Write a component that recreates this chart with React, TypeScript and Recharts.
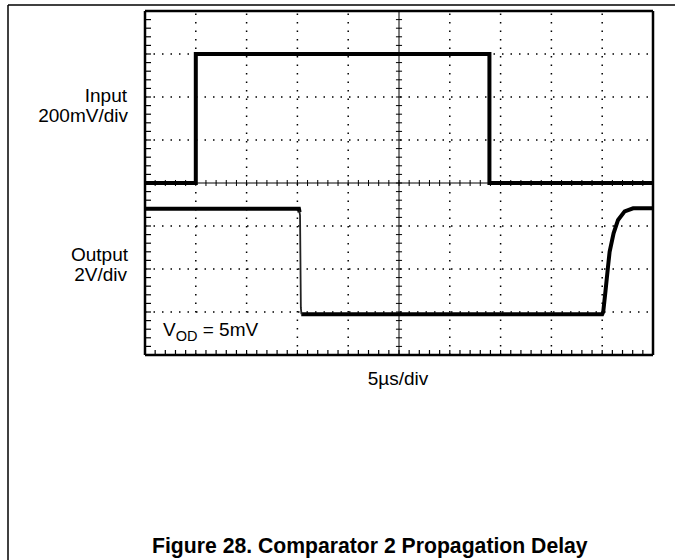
import React from 'react';
import { LineChart, Line, XAxis, YAxis, ReferenceLine } from 'recharts';

// time axis in µs (5µs/div, 10 div), amplitude in screen divisions (centre line = 0, 8 div)
const inputTrace = [
  { t: 0, v: 0 },
  { t: 5, v: 0 },
  { t: 5, v: 3 },
  { t: 33.9, v: 3 },
  { t: 33.9, v: 0 },
  { t: 50, v: 0 },
];

// output: heavy part (gap where the fast falling edge is)
const outputTrace = [
  { t: 0, v: -0.6 },
  { t: 15.15, v: -0.6 },
  { t: 15.22, v: -0.68 },
  { t: 15.3, v: null },
  { t: 15.38, v: -3.05 },
  { t: 45, v: -3.05 },
  { t: 45.1, v: -3.0 },
  { t: 45.33, v: -2.5 },
  { t: 45.57, v: -1.95 },
  { t: 45.73, v: -1.6 },
  { t: 46.12, v: -1.17 },
  { t: 46.56, v: -0.86 },
  { t: 47.21, v: -0.66 },
  { t: 48.04, v: -0.59 },
  { t: 50, v: -0.59 },
];

// falling edge is drawn thin on the scope
const outputEdge = [
  { t: 15.18, v: -0.64 },
  { t: 15.26, v: -0.75 },
  { t: 15.34, v: -2.9 },
  { t: 15.4, v: -3.05 },
];

const majorX = [5, 10, 15, 20, 30, 35, 40, 45];
const majorY = [-3, -2, -1, 1, 2, 3];
const minorX = Array.from({ length: 51 }, (_, i) => i);
const minorY = Array.from({ length: 41 }, (_, i) => Math.round((i * 0.2 - 4) * 10) / 10);

const W = 675;
const H = 560;
const FONT = '"Liberation Sans", Arial, Helvetica, sans-serif';

const borderTick = { stroke: '#000', strokeWidth: 1.2 };
const borderLine = { stroke: '#000', strokeWidth: 2.5 };
const noLabel = () => <g />;

export default function App() {
  return (
    <div style={{ position: 'absolute', left: 0, top: 0, width: W, height: H, background: '#fff' }}>
      <LineChart width={W} height={H} margin={{ top: 11, right: 22, bottom: 205, left: 145 }}>
        <XAxis
          xAxisId="b"
          type="number"
          dataKey="t"
          domain={[0, 50]}
          ticks={minorX}
          interval={0}
          orientation="bottom"
          mirror
          height={1}
          tick={noLabel}
          tickSize={5}
          tickLine={borderTick}
          axisLine={borderLine}
        />
        <XAxis
          xAxisId="t"
          type="number"
          dataKey="t"
          domain={[0, 50]}
          ticks={minorX}
          interval={0}
          orientation="top"
          mirror
          height={1}
          tick={noLabel}
          tickSize={5}
          tickLine={borderTick}
          axisLine={borderLine}
        />
        <YAxis
          yAxisId="l"
          type="number"
          domain={[-4, 4]}
          ticks={minorY}
          interval={0}
          orientation="left"
          mirror
          width={1}
          tick={noLabel}
          tickSize={6}
          tickLine={borderTick}
          axisLine={borderLine}
        />
        <YAxis
          yAxisId="r"
          type="number"
          domain={[-4, 4]}
          ticks={minorY}
          interval={0}
          orientation="right"
          mirror
          width={1}
          tick={noLabel}
          tickSize={6}
          tickLine={borderTick}
          axisLine={borderLine}
        />

        {/* dotted graticule */}
        {majorX.map((t) => (
          <ReferenceLine
            key={'gx' + t}
            xAxisId="b"
            yAxisId="l"
            x={t}
            stroke="#000"
            strokeWidth={1.5}
            strokeDasharray="1.5 7"
          />
        ))}
        {majorY.map((v) => (
          <ReferenceLine
            key={'gy' + v}
            xAxisId="b"
            yAxisId="l"
            y={v}
            stroke="#000"
            strokeWidth={1.5}
            strokeDasharray="1.5 7"
          />
        ))}

        {/* centre cross with minor ticks */}
        <ReferenceLine xAxisId="b" yAxisId="l" x={25} stroke="#000" strokeWidth={1} />
        <ReferenceLine xAxisId="b" yAxisId="l" y={0} stroke="#000" strokeWidth={1} />
        {minorX.map((t) => (
          <ReferenceLine
            key={'cx' + t}
            xAxisId="b"
            yAxisId="l"
            segment={[{ x: t, y: -0.07 }, { x: t, y: 0.07 }]}
            stroke="#000"
            strokeWidth={1}
          />
        ))}
        {minorY.map((v) => (
          <ReferenceLine
            key={'cy' + v}
            xAxisId="b"
            yAxisId="l"
            segment={[{ x: 24.7, y: v }, { x: 25.3, y: v }]}
            stroke="#000"
            strokeWidth={1}
          />
        ))}

        <Line
          xAxisId="b"
          yAxisId="l"
          data={inputTrace}
          dataKey="v"
          type="linear"
          stroke="#000"
          strokeWidth={4}
          dot={false}
          isAnimationActive={false}
        />
        <Line
          xAxisId="b"
          yAxisId="l"
          data={outputTrace}
          dataKey="v"
          type="linear"
          stroke="#000"
          strokeWidth={4}
          dot={false}
          isAnimationActive={false}
        />
        <Line
          xAxisId="b"
          yAxisId="l"
          data={outputEdge}
          dataKey="v"
          type="linear"
          stroke="#222"
          strokeWidth={1.8}
          dot={false}
          isAnimationActive={false}
        />
      </LineChart>

      <svg
        width={W}
        height={H}
        style={{ position: 'absolute', left: 0, top: 0, pointerEvents: 'none' }}
        fontFamily={FONT}
      >
        <line x1={8} y1={5} x2={W} y2={5} stroke="#000" strokeWidth={1.5} />
        <line x1={8} y1={5} x2={8} y2={H} stroke="#000" strokeWidth={1.5} />

        <text x={127} y={102} fontSize={19} textAnchor="end" fill="#000">Input</text>
        <text x={128} y={122} fontSize={19} textAnchor="end" fill="#000">200mV/div</text>
        <text x={128} y={261} fontSize={19} textAnchor="end" fill="#000">Output</text>
        <text x={127} y={281} fontSize={19} textAnchor="end" fill="#000">2V/div</text>

        <rect x={160} y={318} width={103} height={29} fill="#fff" />
        <text x={163} y={336} fontSize={19} fill="#000">
          V<tspan fontSize={14.5} dy={5}>OD</tspan>
          <tspan dy={-5}> = 5mV</tspan>
        </text>

        <text x={398} y={385} fontSize={19} textAnchor="middle" fill="#000">5µs/div</text>

        <text x={152} y={553} fontSize={21.2} fontWeight="bold" fill="#000">
          Figure 28. Comparator 2 Propagation Delay
        </text>
      </svg>
    </div>
  );
}
